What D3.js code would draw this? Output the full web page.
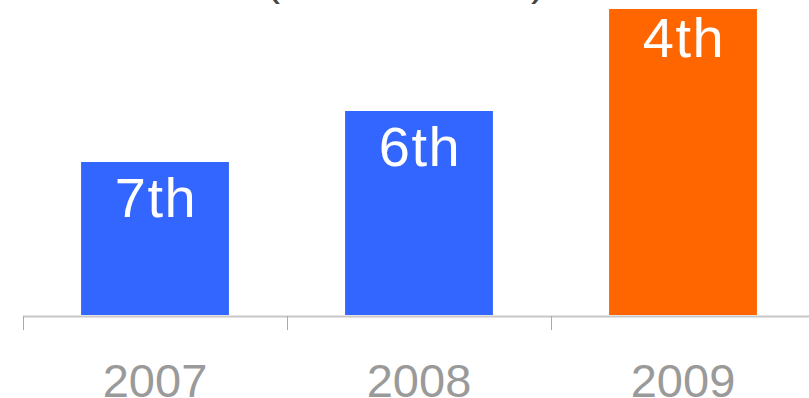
<!DOCTYPE html>
<html>
<head>
<meta charset="utf-8">
<script src="https://cdn.jsdelivr.net/npm/d3@7"></script>
<style>
  html, body { margin: 0; padding: 0; background: #fff; overflow: hidden; }
  svg { display: block; font-family: "Liberation Sans", Arial, sans-serif; }
</style>
</head>
<body>
<svg id="chart" width="809" height="398"></svg>
<script>
// Yearly ranking; the bar height grows as the rank improves (score = 10 - rank)
const years = ["2007", "2008", "2009"];
const ranks = [7, 6, 4];
const rankLabels = ["7th", "6th", "4th"];
const barColors = ["#3366ff", "#3366ff", "#ff6600"];
const titleText = "(market share)";

const svg = d3.select("#chart");
const W = 809, H = 398;
const baseY = 315, topY = 9;

const scores = ranks.map(r => 10 - r);

const x = d3.scaleBand().domain(years).range([23, 815]).padding(0);
const y = d3.scaleLinear().domain([0, d3.max(scores)]).range([baseY, topY]);

const barW = x.bandwidth() * 0.56;

// Title (sits mostly above the visible area)
svg.append("text")
  .attr("x", W / 2 + 1)
  .attr("y", -5)
  .attr("text-anchor", "middle")
  .attr("font-size", 43)
  .attr("fill", "#444")
  .text(titleText);

// Bars
svg.selectAll("rect.bar")
  .data(years)
  .join("rect")
  .attr("class", "bar")
  .attr("x", (d) => x(d) + (x.bandwidth() - barW) / 2)
  .attr("y", (d, i) => y(scores[i]))
  .attr("width", barW)
  .attr("height", (d, i) => baseY - y(scores[i]))
  .attr("fill", (d, i) => barColors[i]);

// Rank labels inside bars; the tallest bar keeps its label tucked a bit higher
svg.selectAll("text.rank")
  .data(years)
  .join("text")
  .attr("class", "rank")
  .attr("x", (d) => x(d) + x.bandwidth() / 2 + 1)
  .attr("y", (d, i) => {
    const top = y(scores[i]);
    return top + (top <= topY + 1 ? 48 : 55);
  })
  .attr("text-anchor", "middle")
  .attr("font-size", 56)
  .attr("letter-spacing", 1.5)
  .attr("fill", "#fff")
  .text((d, i) => rankLabels[i]);

// Axis baseline
svg.append("line")
  .attr("x1", 23).attr("x2", W)
  .attr("y1", baseY + 1.5).attr("y2", baseY + 1.5)
  .attr("stroke", "#c8c8c8")
  .attr("stroke-width", 2);

// Tick marks at band boundaries
svg.selectAll("line.tick")
  .data(years)
  .join("line")
  .attr("class", "tick")
  .attr("x1", (d) => Math.round(x(d)) + 0.5)
  .attr("x2", (d) => Math.round(x(d)) + 0.5)
  .attr("y1", baseY + 1)
  .attr("y2", baseY + 15)
  .attr("stroke", "#aaa")
  .attr("stroke-width", 1);

// Year labels
svg.selectAll("text.year")
  .data(years)
  .join("text")
  .attr("class", "year")
  .attr("x", (d) => x(d) + x.bandwidth() / 2)
  .attr("y", 396.5)
  .attr("text-anchor", "middle")
  .attr("font-size", 47)
  .attr("fill", "#9a9a9a")
  .text((d) => d);
</script>
</body>
</html>
